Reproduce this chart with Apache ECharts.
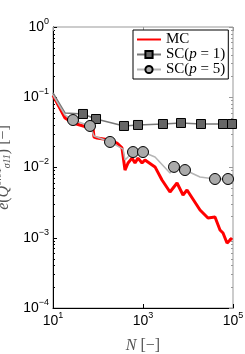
<!DOCTYPE html>
<html><head><meta charset="utf-8">
<script src="https://cdn.jsdelivr.net/npm/echarts@6/dist/echarts.min.js"></script>
<style>html,body{margin:0;padding:0;background:#fff}#c{width:245px;height:354px}</style>
</head><body><div id="c"></div>
<script>
// ---- data ----
const mcN = [10, 18.5, 27.8, 66.4, 77.4, 81.5, 95.1, 185, 264, 341, 398, 465, 570, 664, 774, 951, 1107, 1849, 2642, 3981, 5702, 7745, 9506, 18490, 27800, 39800, 51400, 60000, 73600, 77400, 95100];
const mcE = [0.107, 0.0507, 0.0430, 0.0365, 0.0365, 0.0272, 0.0263, 0.0246, 0.0223, 0.0190, 0.0092, 0.0116, 0.0136, 0.0116, 0.0136, 0.0116, 0.0128, 0.0102, 0.00664, 0.00448, 0.00601, 0.00406, 0.00479, 0.00248, 0.00191, 0.00197, 0.00129, 0.00117, 0.00084, 0.00079, 0.00099];

const sc1N = [10, 18.5, 46.4, 90.4, 378, 774, 2780, 6990, 19450, 60000, 95100];
const sc1E = [0.115, 0.0597, 0.0578, 0.0490, 0.0390, 0.0403, 0.0416, 0.0430, 0.0416, 0.0416, 0.0416];
const sc1Marked = [2, 3, 4, 5, 6, 7, 8, 9, 10];

const sc5N = [10, 18.5, 27.8, 66.4, 81.5, 185, 360, 398, 600, 1000, 1849, 3981, 4887, 8570, 18490, 39800, 77400];
const sc5E = [0.107, 0.0558, 0.0474, 0.0390, 0.0281, 0.0231, 0.0183, 0.0128, 0.0166, 0.0166, 0.0141, 0.00836, 0.0102, 0.0092, 0.00733, 0.00686, 0.00686];
const sc5Marked = [2, 3, 5, 8, 9, 12, 13, 15, 16];

const seriesNames = ['MC', 'SC(p = 1)', 'SC(p = 5)'];
const xTicks = [10, 1000, 100000];

// ---- build ----
const pairs = (xs, ys) => xs.map((x, i) => [x, ys[i]]);
const marked = (xs, ys, idx) => xs.map((x, i) => idx.includes(i) ? [x, ys[i]] : { value: [x, ys[i]], symbol: 'none' });

const supFmt = v => {
  const e = Math.round(Math.log10(v));
  return '{b|10}{s|' + String(e).replace('-', '\u2212') + '}';
};
const labRich = {
  b: { fontFamily: 'Liberation Sans', fontSize: 14, color: '#000', lineHeight: 14, verticalAlign: 'bottom' },
  s: { fontFamily: 'Liberation Sans', fontSize: 9, color: '#000', lineHeight: 9, padding: [0, 0, 8, 0], verticalAlign: 'bottom' }
};
const serif = 'Liberation Serif';

const chart = echarts.init(document.getElementById('c'), null, { renderer: 'canvas' });
chart.setOption({
  animation: false,
  backgroundColor: '#fff',
  grid: { left: 53, right: 12, top: 27, bottom: 46, show: true, borderColor: '#999', borderWidth: 1, backgroundColor: 'transparent', outerBoundsMode: 'none', containLabel: false },
  legend: {
    left: 133, top: 30, orient: 'vertical', itemGap: 0,
    padding: [2, 3, 2, 3],
    borderColor: '#000', borderWidth: 1, backgroundColor: '#fff',
    itemWidth: 24, itemHeight: 9,
    data: [{ name: seriesNames[0], itemStyle: { color: 'rgba(0,0,0,0)', borderWidth: 0 } }, seriesNames[1], seriesNames[2]],
    formatter: n => n.replace('p', '{i|p}'),
    textStyle: { fontFamily: serif, fontSize: 15, color: '#000', lineHeight: 13,
      rich: { i: { fontFamily: serif, fontStyle: 'italic', fontSize: 15, lineHeight: 13 } } }
  },
  xAxis: [{
    type: 'log', logBase: 10, min: 10, max: 100000,
    name: '{i|N} [\u2212]', nameLocation: 'middle', nameGap: 30,
    nameTextStyle: { fontFamily: serif, fontSize: 16, color: '#555', rich: { i: { fontFamily: serif, fontStyle: 'italic', fontSize: 16, color: '#555' } } },
    axisLine: { show: true, lineStyle: { color: '#000', width: 1 } },
    axisTick: { show: true, inside: true, length: 4, lineStyle: { color: '#000' }, customValues: xTicks },
    axisLabel: { margin: 6, formatter: supFmt, rich: labRich, customValues: xTicks },
    splitLine: { show: false }
  }, {
    type: 'log', logBase: 10, min: 10, max: 100000, position: 'top',
    axisLine: { show: false },
    axisTick: { show: true, inside: true, length: 4, lineStyle: { color: '#999' }, customValues: xTicks },
    axisLabel: { show: false },
    splitLine: { show: false }
  }],
  yAxis: [{
    type: 'log', logBase: 10, min: 0.0001, max: 1,
    name: '{i|e}({i|Q}{sup|0.01}{sub|\u03c311}) [\u2212]', nameLocation: 'middle', nameGap: 30, nameRotate: 90,
    nameTextStyle: { fontFamily: serif, fontSize: 16, color: '#555', lineHeight: 16, verticalAlign: 'bottom',
      rich: {
        i: { fontFamily: serif, fontStyle: 'italic', fontSize: 16, color: '#555', lineHeight: 16, verticalAlign: 'bottom' },
        sup: { fontFamily: serif, fontSize: 10, color: '#555', lineHeight: 10, padding: [0, 0, 9, 0], verticalAlign: 'bottom' },
        sub: { fontFamily: serif, fontStyle: 'italic', fontSize: 10, color: '#555', lineHeight: 10, padding: [4, 0, 0, 0], verticalAlign: 'bottom' }
      } },
    axisLine: { show: true, lineStyle: { color: '#000', width: 1 } },
    axisTick: { show: true, inside: true, length: 4, lineStyle: { color: '#000' } },
    minorTick: { show: true, splitNumber: 9, length: 2, lineStyle: { color: '#000' } },
    axisLabel: { margin: 4, formatter: supFmt, rich: labRich },
    splitLine: { show: false }
  }, {
    type: 'log', logBase: 10, min: 0.0001, max: 1, position: 'right',
    axisLine: { show: false },
    axisTick: { show: true, inside: true, length: 4, lineStyle: { color: '#999' } },
    minorTick: { show: true, splitNumber: 9, length: 2, lineStyle: { color: '#999' } },
    axisLabel: { show: false },
    splitLine: { show: false }
  }],
  series: [{
    name: seriesNames[0], type: 'line', data: pairs(mcN, mcE), showSymbol: false, symbol: 'none',
    lineStyle: { color: '#ff0000', width: 3 }, itemStyle: { color: '#ff0000' }, z: 2
  }, {
    name: seriesNames[1], type: 'line', data: marked(sc1N, sc1E, sc1Marked),
    symbol: 'rect', symbolSize: 9,
    lineStyle: { color: '#777', width: 1.5 },
    itemStyle: { color: '#666', borderColor: '#000', borderWidth: 1 }, z: 3
  }, {
    name: seriesNames[2], type: 'line', data: marked(sc5N, sc5E, sc5Marked),
    symbol: 'circle', symbolSize: 11,
    lineStyle: { color: '#b5b5b5', width: 1.5 },
    itemStyle: { color: '#aaa', borderColor: '#000', borderWidth: 1 }, z: 4
  }]
});
</script></body></html>
